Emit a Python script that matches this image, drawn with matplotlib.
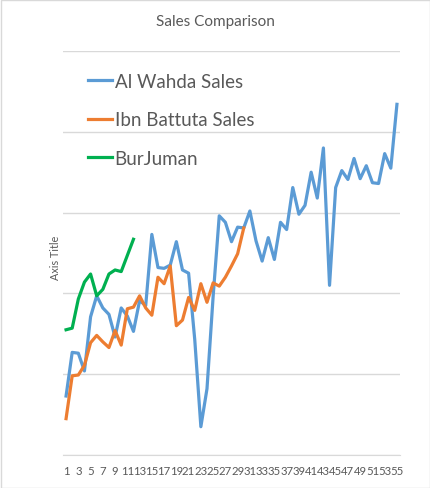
import numpy as np
import matplotlib
matplotlib.use('Agg')
import matplotlib.pyplot as plt
from matplotlib.patches import Rectangle

plt.rcParams['font.family'] = ['Lato', 'DejaVu Sans']

# Data
al_wahda = [0.73, 1.27, 1.26, 1.04, 1.71, 1.97, 1.82, 1.74, 1.46, 1.82,
            1.72, 1.53, 1.91, 1.85, 2.73, 2.32, 2.31, 2.35, 2.64, 2.29,
            2.25, 1.43, 0.35, 0.82, 1.96, 2.96, 2.88, 2.64, 2.82, 2.81,
            3.02, 2.65, 2.40, 2.69, 2.42, 2.88, 2.79, 3.31, 2.98, 3.09,
            3.50, 3.18, 3.80, 2.10, 3.31, 3.52, 3.41, 3.67, 3.42, 3.58,
            3.37, 3.36, 3.73, 3.55, 4.34]
ibn_battuta = [0.45, 0.98, 0.99, 1.11, 1.39, 1.48, 1.40, 1.33, 1.54, 1.36,
               1.81, 1.83, 1.97, 1.82, 1.73, 2.20, 2.12, 2.34, 1.60, 1.67,
               1.95, 1.79, 2.12, 1.89, 2.13, 2.09, 2.20, 2.34, 2.49, 2.81]
burjuman = [1.55, 1.57, 1.93, 2.14, 2.24, 1.97, 2.05, 2.24, 2.29, 2.27,
            2.47, 2.67]
series_names = ['Al Wahda Sales', 'Ibn Battuta Sales', 'BurJuman']
colors = ['#5B9BD5', '#ED7D31', '#00B050']
x_ticks = list(range(1, 56, 2))

fig = plt.figure(figsize=(4.30, 4.89), dpi=100)
ax = fig.add_axes([63 / 430, 33 / 489, 337 / 430, 404 / 489])

for vals, name, c in zip([al_wahda, ibn_battuta, burjuman], series_names, colors):
    x = np.arange(1, len(vals) + 1)
    ax.plot(x, vals, color=c, linewidth=2.3, label=name, solid_joinstyle='round')

ax.set_xlim(0.5, 55.5)
ax.set_ylim(0, 5)
ax.set_yticks(np.arange(0, 6, 1))
ax.set_yticklabels([])
ax.set_xticks(x_ticks)
ax.set_xticklabels([str(t) for t in x_ticks], fontsize=8.2, color='#595959')
ax.tick_params(axis='both', length=0)
ax.tick_params(axis='x', pad=7)
ax.grid(axis='y', color='#d9d9d9', linewidth=1)
ax.set_axisbelow(True)
for s in ['top', 'right', 'left']:
    ax.spines[s].set_visible(False)
ax.spines['bottom'].set_color('#d9d9d9')
ax.set_ylabel('Axis Title', fontsize=7.8, color='#595959')
ax.yaxis.set_label_coords(-0.006, 0.49)

fig.text(0.5, 1 - 22 / 489, 'Sales Comparison', ha='center', va='center',
         fontsize=11, color='#595959')

leg = ax.legend(loc='upper left', bbox_to_anchor=(80 / 430, 1 - 66 / 489),
                bbox_transform=fig.transFigure, frameon=False, fontsize=13.5,
                handlelength=1.3, handletextpad=0.15, labelspacing=1.15,
                borderaxespad=0)
for t in leg.get_texts():
    t.set_color('#595959')

fig.patches.append(Rectangle((0.5 / 430, 0.5 / 489), 429 / 430, 488 / 489,
                             transform=fig.transFigure, fill=False,
                             edgecolor='#d9d9d9', linewidth=1))

plt.savefig('out.png', dpi=100)
